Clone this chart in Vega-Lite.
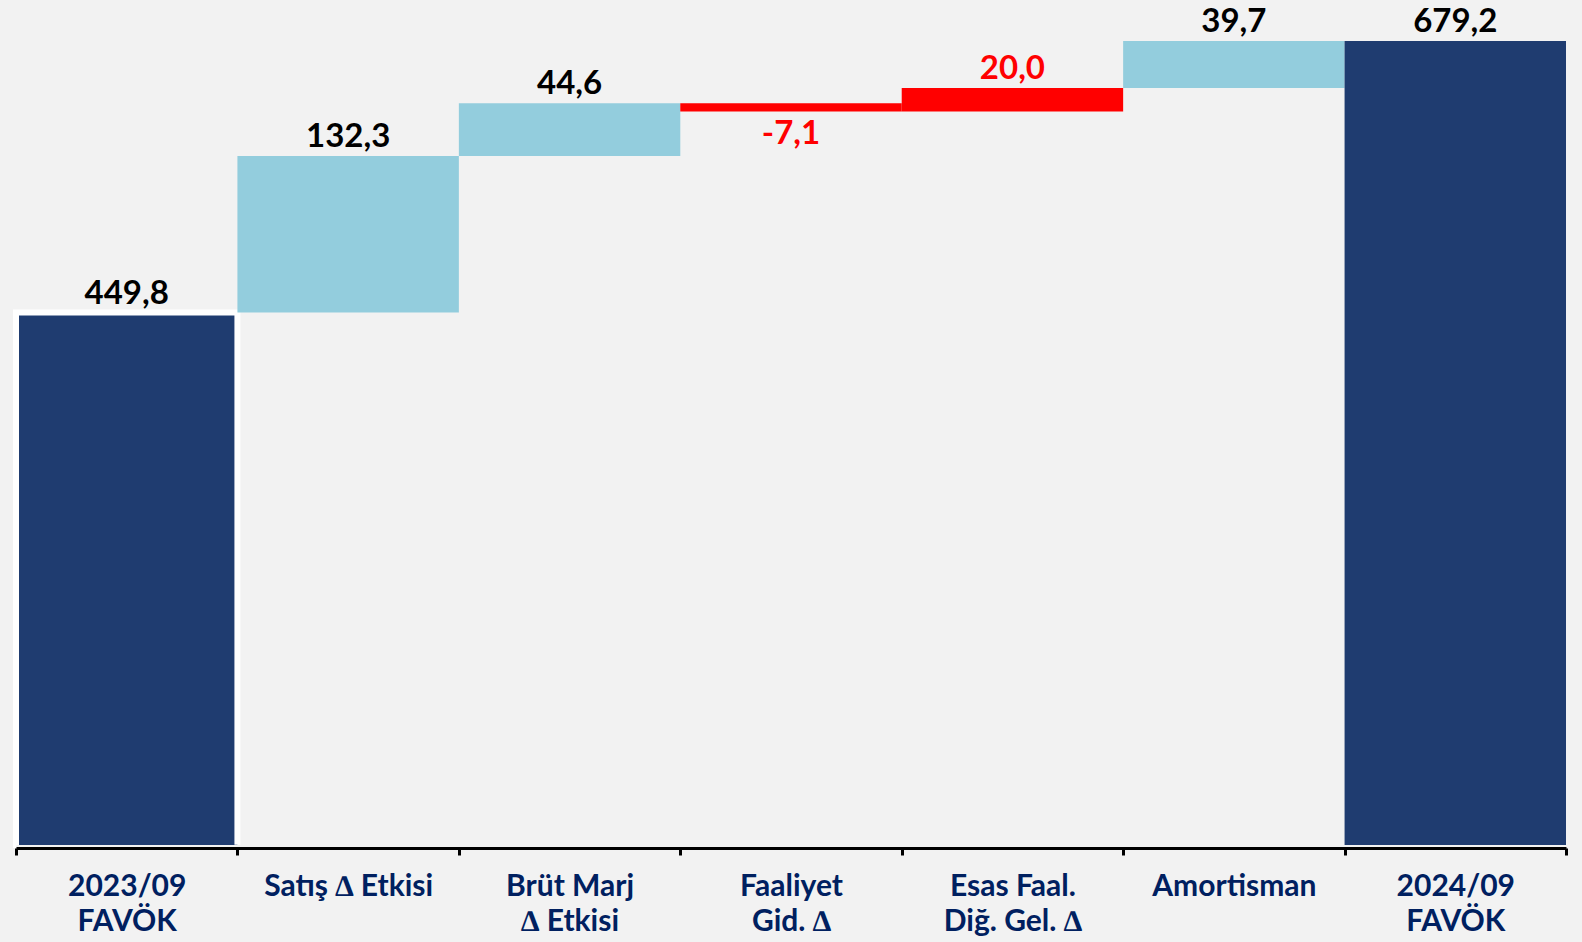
{
  "$schema": "https://vega.github.io/schema/vega-lite/v6.json",
  "width": 1550,
  "height": 845,
  "padding": {"left": 16, "right": 16, "top": 0, "bottom": 97},
  "autosize": {"type": "none"},
  "background": "#F2F2F2",
  "config": {
    "view": {"stroke": null},
    "font": "Lato"
  },
  "data": {
    "values": [
      {"kategori": "2023/09|FAVÖK", "baslangic": 0, "bitis": 449.8, "degisim": 449.8, "etiket": "449,8", "tur": "toplam"},
      {"kategori": "Satış ∆ Etkisi", "baslangic": 449.8, "bitis": 582.1, "degisim": 132.3, "etiket": "132,3", "tur": "etki"},
      {"kategori": "Brüt Marj|∆ Etkisi", "baslangic": 582.1, "bitis": 626.7, "degisim": 44.6, "etiket": "44,6", "tur": "etki"},
      {"kategori": "Faaliyet|Gid. ∆", "baslangic": 626.7, "bitis": 619.6, "degisim": -7.1, "etiket": "-7,1", "tur": "faaliyet"},
      {"kategori": "Esas Faal.|Diğ. Gel. ∆", "baslangic": 619.6, "bitis": 639.5, "degisim": 20.0, "etiket": "20,0", "tur": "faaliyet"},
      {"kategori": "Amortisman", "baslangic": 639.5, "bitis": 679.2, "degisim": 39.7, "etiket": "39,7", "tur": "etki"},
      {"kategori": "2024/09|FAVÖK", "baslangic": 0, "bitis": 679.2, "degisim": 679.2, "etiket": "679,2", "tur": "toplam"}
    ]
  },
  "encoding": {
    "x": {
      "field": "kategori",
      "type": "nominal",
      "sort": null,
      "scale": {"paddingInner": 0, "paddingOuter": 0},
      "axis": {
        "title": null,
        "labelAngle": 0,
        "labelExpr": "split(datum.label, '|')",
        "labelFont": "Lato",
        "labelFontSize": 30,
        "labelFontWeight": "bold",
        "labelColor": "#002060",
        "labelLineHeight": 35,
        "labelPadding": 16,
        "labelBaseline": "top",
        "domainColor": "black",
        "domainWidth": 3,
        "tickColor": "black",
        "tickWidth": 3,
        "tickSize": 7,
        "tickBand": "extent",
        "offset": 3,
        "zindex": 1
      }
    }
  },
  "layer": [
    {
      "mark": {"type": "bar", "stroke": "white", "strokeDash": [753.5, 221.4, 700]},
      "encoding": {
        "y": {"field": "baslangic", "type": "quantitative", "scale": {"domain": [0, 713.9], "nice": false, "zero": true}, "axis": null},
        "y2": {"field": "bitis"},
        "color": {
          "field": "tur",
          "type": "nominal",
          "scale": {"domain": ["toplam", "etki", "faaliyet"], "range": ["#1F3C70", "#93CDDD", "#FF0000"]},
          "legend": null
        },
        "strokeWidth": {"condition": {"test": "datum.etiket === '449,8'", "value": 6}, "value": 0}
      }
    },
    {
      "transform": [{"filter": "datum.degisim >= 0"}],
      "mark": {"type": "text", "font": "Lato", "fontSize": 33, "fontWeight": "bold", "baseline": "alphabetic", "dy": -9},
      "encoding": {
        "y": {"field": "bitis", "type": "quantitative"},
        "text": {"field": "etiket"},
        "color": {"condition": {"test": "datum.tur === 'faaliyet'", "value": "#FF0000"}, "value": "#000000"}
      }
    },
    {
      "transform": [{"filter": "datum.degisim < 0"}],
      "mark": {"type": "text", "font": "Lato", "fontSize": 33, "fontWeight": "bold", "baseline": "alphabetic", "dy": 32},
      "encoding": {
        "y": {"field": "bitis", "type": "quantitative"},
        "text": {"field": "etiket"},
        "color": {"value": "#FF0000"}
      }
    }
  ]
}
